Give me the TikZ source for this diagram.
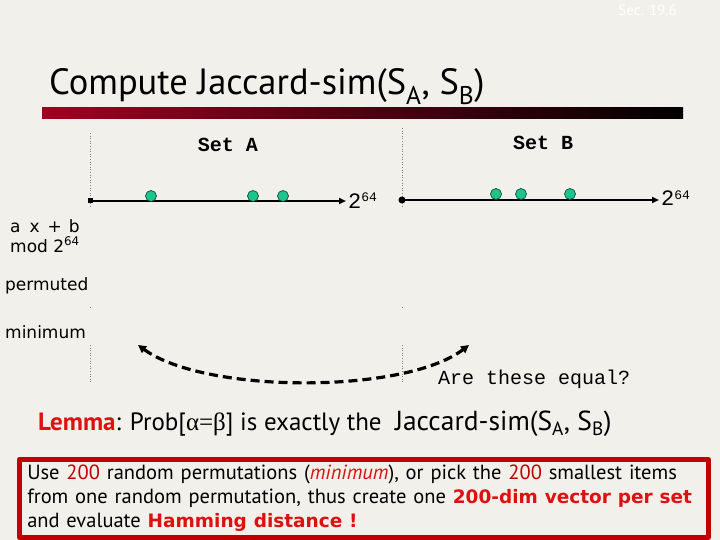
\documentclass[tikz,border=0pt]{standalone}
\usepackage{fontspec}
\setmainfont{PT Sans}
\setmonofont{Liberation Mono}
\newfontfamily\labelfont{DejaVu Sans}
\newfontfamily\greekfont{Liberation Serif}
\usetikzlibrary{arrows.meta}
\definecolor{slidebg}{RGB}{242,240,234}
\definecolor{barred}{RGB}{160,0,32}
\definecolor{boxred}{RGB}{192,0,0}
\definecolor{hotred}{RGB}{222,16,16}
\definecolor{setgreen}{RGB}{30,196,142}
\tikzstyle{every node}=[inner sep=0pt]
\tikzstyle{every path}=[line join=round]
\newcommand{\sixtyfour}{{\ttfamily\fontsize{22}{22}\selectfont 2\raisebox{0.55ex}{\fontsize{13}{13}\selectfont 64}}}
\newcommand{\hot}[1]{\textcolor{hotred}{\labelfont\bfseries\fontsize{18.5}{24}\selectfont #1}}

\begin{document}
\begin{tikzpicture}[x=1pt,y=-1pt]
		\tikzstyle{elem} = [circle,draw=black!60!setgreen,fill=setgreen,line width=0.7pt,minimum size=11pt]
		\tikzstyle{axis} = [line width=1.8pt,-{Triangle[length=7pt,width=6pt]}]
		\tikzstyle{guide} = [gray,dotted,line width=0.6pt]
		\tikzstyle{lbl} = [anchor=base west,font=\labelfont\fontsize{17}{18}\selectfont]
		\tikzstyle{setname} = [font=\ttfamily\bfseries\fontsize{20}{20}\selectfont]
		\tikzstyle{cmp} = [line width=3.2pt,dash pattern=on 9pt off 5pt,{Triangle[length=8pt,width=8pt]}-{Triangle[length=8pt,width=8pt]}]
		
		\fill[slidebg] (0,0) rectangle (720,540);
		\useasboundingbox (0,0) rectangle (720,540);
		
		% title
		\node[anchor=east,text=white,font=\fontsize{15}{15}\selectfont] (sec) at (677,10) {Sec. 19.6};
		\node[anchor=base west,font=\fontsize{36.5}{38}\selectfont] (title) at (49,95) {Compute Jaccard-sim(S\textsubscript{A}, S\textsubscript{B})};
		\shade[left color=barred,right color=black] (42,108) rectangle (683,119);
		
		% dotted guides
		\draw[guide] (90,133) -- (90,207);
		\draw[guide] (90,307) -- (90,309);
		\draw[guide] (90,345) -- (90,382);
		\draw[guide] (402,128) -- (402,207);
		\draw[guide] (402,307) -- (402,309);
		\draw[guide] (402,345) -- (402,383);
		
		% set A
		\coordinate (a0) at (90,201);
		\coordinate (a1) at (346,201);
		\draw[axis] (a0) -- (a1);
		\node[fill,minimum size=5pt] (a0dot) at (a0) {};
		\node[anchor=base west] (a1lab) at (348,208) {\sixtyfour};
		\node[setname] (setA) at (228,145) {Set A};
		\node[elem] (x1) at (151,196) {};
		\node[elem] (x2) at (253,196) {};
		\node[elem] (x3) at (283,196) {};
		
		% set B
		\coordinate (b0) at (402,200);
		\coordinate (b1) at (659,200);
		\draw[axis] (b0) -- (b1);
		\node[circle,fill,minimum size=7pt] (b0dot) at (b0) {};
		\node[anchor=base west] (b1lab) at (661,206) {\sixtyfour};
		\node[setname] (setB) at (543,143) {Set B};
		\node[elem] (y1) at (496,194) {};
		\node[elem] (y2) at (521,194) {};
		\node[elem] (y3) at (570,194) {};
		
		% row labels
		\node[lbl] (hash) at (10,233) {a\hspace{9pt}x\hspace{8pt}+\hspace{7pt}b};
		\node[lbl] (mod) at (10,252) {mod 2\textsuperscript{64}};
		\node[lbl] (perm) at (5,290) {permuted};
		\node[lbl] (mini) at (5,338) {minimum};
		
		\coordinate (minA) at (138,345);
		\coordinate (minB) at (469,345);
		\draw[cmp] (minA) .. controls (205,394) and (405,394) .. (minB);
		\node[anchor=base west,font=\ttfamily\fontsize{20}{20}\selectfont] (ask) at (438,384) {Are these equal?};
		
		\node[anchor=base west,font=\fontsize{25}{26}\selectfont] (lemma) at (38,430) {\textcolor{hotred}{\bfseries Lemma}: Prob[{\greekfont α=β}] is exactly the\ \ {\fontsize{27.5}{28}\selectfont Jaccard-sim(S\textsubscript{A}, S\textsubscript{B})}};
		
		\node[draw=boxred,line width=4.5pt,anchor=north west,minimum width=689pt,minimum height=78pt,inner xsep=8pt,text width=673pt,align=left,font=\fontsize{20.5}{24}\selectfont] (usage) at (17,457)
			{Use \textcolor{boxred}{200} random permutations (\textcolor{hotred}{\itshape minimum}), or pick the \textcolor{boxred}{200} smallest items\\
			from one random permutation, thus create one \hot{200-dim vector per set}\\
			and evaluate \hot{Hamming distance !}};
		
	\end{tikzpicture}
\end{document}
